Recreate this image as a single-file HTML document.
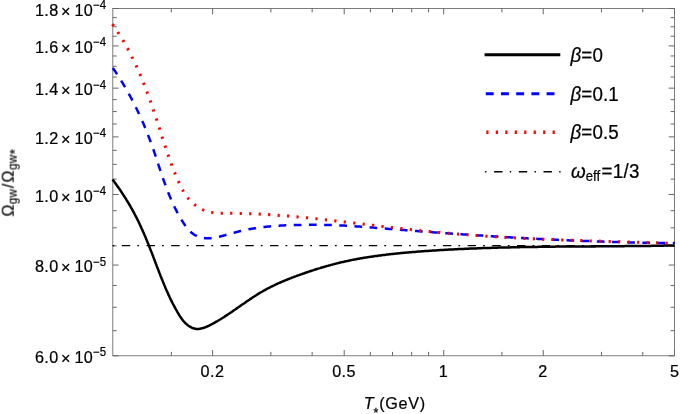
<!DOCTYPE html>
<html><head><meta charset="utf-8"><title>plot</title>
<style>
html,body{margin:0;padding:0;background:#fff;}
svg{display:block;}
text{font-family:"Liberation Sans",sans-serif;font-size:16.2px;fill:#000;letter-spacing:0.45px;}
.i{font-style:italic;}
.t{will-change:transform;}
.t text{stroke:#000;stroke-width:0.22px;}
.lg text{font-size:18.8px;letter-spacing:0.1px;}
</style></head><body>
<svg width="680" height="414" viewBox="0 0 680 414">
<rect x="0" y="0" width="680" height="414" fill="#fff"/>
<g fill="none">
<rect x="112.8" y="8.5" width="561.7" height="347.3" stroke="#666" stroke-width="0.85"/>
<path d="M212.62,355.8 v-5.8 M212.62,8.5 v5.8 M344.19,355.8 v-5.8 M344.19,8.5 v5.8 M443.71,355.8 v-5.8 M443.71,8.5 v5.8 M543.24,355.8 v-5.8 M543.24,8.5 v5.8 M674.50,355.8 v-5.8 M674.50,8.5 v5.8 M171.32,355.8 v-3.9 M171.32,8.5 v3.9 M270.84,355.8 v-3.9 M270.84,8.5 v3.9 M312.15,355.8 v-3.9 M312.15,8.5 v3.9 M370.37,355.8 v-3.9 M370.37,8.5 v3.9 M392.50,355.8 v-3.9 M392.50,8.5 v3.9 M411.67,355.8 v-3.9 M411.67,8.5 v3.9 M428.58,355.8 v-3.9 M428.58,8.5 v3.9 M501.93,355.8 v-3.9 M501.93,8.5 v3.9 M601.45,355.8 v-3.9 M601.45,8.5 v3.9 M642.76,355.8 v-3.9 M642.76,8.5 v3.9 M112.8,8.50 h5.8 M674.5,8.50 h-5.8 M112.8,45.93 h5.8 M674.5,45.93 h-5.8 M112.8,88.15 h5.8 M674.5,88.15 h-5.8 M112.8,136.88 h5.8 M674.5,136.88 h-5.8 M112.8,194.51 h5.8 M674.5,194.51 h-5.8 M112.8,265.06 h5.8 M674.5,265.06 h-5.8 M112.8,355.80 h5.8 M674.5,355.80 h-5.8 M112.8,17.61 h3.9 M674.5,17.61 h-3.9 M112.8,26.77 h3.9 M674.5,26.77 h-3.9 M112.8,36.21 h3.9 M674.5,36.21 h-3.9 M112.8,55.97 h3.9 M674.5,55.97 h-3.9 M112.8,66.34 h3.9 M674.5,66.34 h-3.9 M112.8,77.05 h3.9 M674.5,77.05 h-3.9 M112.8,99.64 h3.9 M674.5,99.64 h-3.9 M112.8,111.57 h3.9 M674.5,111.57 h-3.9 M112.8,123.97 h3.9 M674.5,123.97 h-3.9 M112.8,150.33 h3.9 M674.5,150.33 h-3.9 M112.8,164.38 h3.9 M674.5,164.38 h-3.9 M112.8,179.09 h3.9 M674.5,179.09 h-3.9 M112.8,210.73 h3.9 M674.5,210.73 h-3.9 M112.8,227.82 h3.9 M674.5,227.82 h-3.9 M112.8,245.89 h3.9 M674.5,245.89 h-3.9 M112.8,285.46 h3.9 M674.5,285.46 h-3.9 M112.8,307.27 h3.9 M674.5,307.27 h-3.9 M112.8,330.70 h3.9 M674.5,330.70 h-3.9" stroke="#666" stroke-width="1"/>
</g>
<g fill="none" stroke-linejoin="round">
<path d="M112.5,179.5 L113.1,180.3 L113.7,181.0 L114.3,181.8 L114.8,182.6 L115.4,183.4 L116.0,184.1 L116.5,184.9 L117.1,185.7 L117.6,186.5 L118.2,187.3 L118.7,188.0 L119.3,188.8 L119.8,189.6 L120.4,190.4 L120.9,191.2 L121.4,192.0 L122.0,192.8 L122.5,193.6 L123.0,194.4 L123.5,195.2 L124.1,196.0 L124.6,196.8 L125.1,197.6 L125.6,198.4 L126.1,199.2 L126.6,200.1 L127.1,200.9 L127.6,201.7 L128.1,202.5 L128.6,203.3 L129.1,204.2 L129.6,205.0 L130.1,205.8 L130.5,206.6 L131.0,207.5 L131.5,208.3 L132.0,209.1 L132.4,210.0 L132.9,210.8 L133.3,211.7 L133.8,212.5 L134.3,213.3 L134.7,214.2 L135.1,215.0 L135.6,215.9 L136.0,216.7 L136.5,217.6 L136.9,218.4 L137.3,219.3 L137.7,220.2 L138.2,221.0 L138.6,221.9 L139.0,222.7 L139.4,223.6 L139.8,224.5 L140.2,225.3 L140.6,226.2 L141.0,227.1 L141.4,228.0 L141.8,228.8 L142.2,229.7 L142.6,230.6 L143.0,231.5 L143.4,232.3 L143.8,233.2 L144.2,234.1 L144.5,235.0 L144.9,235.8 L145.3,236.7 L145.7,237.6 L146.0,238.5 L146.4,239.4 L146.8,240.3 L147.1,241.2 L147.5,242.0 L147.8,242.9 L148.2,243.8 L148.6,244.7 L148.9,245.6 L149.3,246.5 L149.6,247.4 L150.0,248.3 L150.3,249.2 L150.7,250.1 L151.0,250.9 L151.4,251.8 L151.7,252.7 L152.1,253.6 L152.4,254.5 L152.8,255.4 L153.1,256.3 L153.4,257.2 L153.8,258.1 L154.1,259.0 L154.5,259.9 L154.8,260.8 L155.1,261.7 L155.5,262.6 L155.8,263.5 L156.2,264.4 L156.5,265.3 L156.8,266.2 L157.2,267.0 L157.5,267.9 L157.9,268.8 L158.2,269.7 L158.6,270.6 L158.9,271.5 L159.2,272.4 L159.6,273.3 L159.9,274.2 L160.3,275.1 L160.6,276.0 L161.0,276.9 L161.3,277.8 L161.7,278.7 L162.1,279.5 L162.4,280.4 L162.8,281.3 L163.1,282.2 L163.5,283.1 L163.9,284.0 L164.2,284.9 L164.6,285.8 L165.0,286.6 L165.3,287.5 L165.7,288.4 L166.1,289.3 L166.5,290.2 L166.9,291.0 L167.3,291.9 L167.7,292.8 L168.1,293.7 L168.4,294.6 L168.8,295.4 L169.3,296.3 L169.7,297.2 L170.1,298.0 L170.5,298.9 L170.9,299.8 L171.3,300.6 L171.7,301.5 L172.2,302.3 L172.6,303.2 L173.0,304.0 L173.5,304.9 L173.9,305.7 L174.4,306.5 L174.8,307.4 L175.3,308.2 L175.7,309.0 L176.2,309.9 L176.7,310.7 L177.1,311.5 L177.6,312.4 L178.1,313.2 L178.6,314.0 L179.1,314.9 L179.6,315.7 L180.1,316.5 L180.7,317.3 L181.2,318.1 L181.8,318.9 L182.4,319.7 L183.0,320.4 L183.6,321.2 L184.2,321.9 L184.9,322.6 L185.5,323.3 L186.2,323.9 L186.9,324.5 L187.7,325.1 L188.4,325.7 L189.2,326.2 L190.0,326.7 L190.9,327.2 L191.7,327.6 L192.6,328.0 L193.5,328.3 L194.4,328.6 L195.4,328.8 L196.3,328.9 L197.3,328.9 L198.2,328.9 L199.2,328.9 L200.1,328.7 L201.0,328.6 L202.0,328.3 L202.9,328.1 L203.8,327.8 L204.7,327.5 L205.6,327.1 L206.5,326.8 L207.4,326.4 L208.3,326.0 L209.1,325.6 L210.0,325.1 L210.9,324.7 L211.7,324.2 L212.6,323.8 L213.4,323.3 L214.3,322.9 L215.1,322.4 L215.9,321.9 L216.8,321.4 L217.6,321.0 L218.4,320.5 L219.2,320.0 L220.1,319.5 L220.9,319.0 L221.7,318.5 L222.5,318.0 L223.3,317.5 L224.1,317.0 L224.9,316.4 L225.7,315.9 L226.5,315.4 L227.3,314.9 L228.1,314.3 L228.9,313.8 L229.7,313.3 L230.5,312.7 L231.3,312.2 L232.0,311.7 L232.8,311.1 L233.6,310.6 L234.4,310.0 L235.2,309.5 L236.0,308.9 L236.8,308.4 L237.6,307.8 L238.3,307.3 L239.1,306.7 L239.9,306.2 L240.7,305.6 L241.5,305.1 L242.3,304.5 L243.1,304.0 L243.9,303.5 L244.7,302.9 L245.4,302.4 L246.2,301.8 L247.0,301.3 L247.8,300.7 L248.6,300.2 L249.4,299.7 L250.2,299.1 L251.0,298.6 L251.8,298.1 L252.6,297.5 L253.4,297.0 L254.2,296.5 L255.0,296.0 L255.8,295.5 L256.6,294.9 L257.5,294.4 L258.3,293.9 L259.1,293.4 L259.9,292.9 L260.7,292.4 L261.5,292.0 L262.4,291.5 L263.2,291.0 L264.0,290.5 L264.9,290.1 L265.7,289.6 L266.6,289.1 L267.4,288.7 L268.2,288.2 L269.1,287.8 L269.9,287.4 L270.8,286.9 L271.6,286.5 L272.5,286.1 L273.4,285.7 L274.2,285.3 L275.1,284.8 L276.0,284.4 L276.8,284.0 L277.7,283.6 L278.6,283.2 L279.4,282.9 L280.3,282.5 L281.2,282.1 L282.1,281.7 L283.0,281.3 L283.8,281.0 L284.7,280.6 L285.6,280.2 L286.5,279.9 L287.4,279.5 L288.3,279.1 L289.2,278.8 L290.1,278.4 L291.0,278.1 L291.9,277.7 L292.7,277.4 L293.6,277.1 L294.5,276.7 L295.4,276.4 L296.3,276.1 L297.2,275.7 L298.1,275.4 L299.0,275.1 L300.0,274.8 L300.9,274.4 L301.8,274.1 L302.7,273.8 L303.6,273.5 L304.5,273.2 L305.4,272.8 L306.3,272.5 L307.2,272.2 L308.1,271.9 L309.0,271.6 L309.9,271.3 L310.8,271.0 L311.7,270.7 L312.7,270.4 L313.6,270.1 L314.5,269.8 L315.4,269.5 L316.3,269.2 L317.2,268.9 L318.1,268.6 L319.0,268.4 L320.0,268.1 L320.9,267.8 L321.8,267.5 L322.7,267.3 L323.6,267.0 L324.6,266.7 L325.5,266.4 L326.4,266.2 L327.3,265.9 L328.2,265.7 L329.2,265.4 L330.1,265.2 L331.0,264.9 L331.9,264.7 L332.9,264.4 L333.8,264.2 L334.7,263.9 L335.6,263.7 L336.6,263.4 L337.5,263.2 L338.4,263.0 L339.3,262.8 L340.3,262.5 L341.2,262.3 L342.1,262.1 L343.1,261.9 L344.0,261.7 L344.9,261.5 L345.9,261.3 L346.8,261.1 L347.8,260.9 L348.7,260.7 L349.6,260.5 L350.6,260.3 L351.5,260.1 L352.4,259.9 L353.4,259.7 L354.3,259.5 L355.3,259.4 L356.2,259.2 L357.1,259.0 L358.1,258.8 L359.0,258.7 L360.0,258.5 L360.9,258.3 L361.9,258.2 L362.8,258.0 L363.8,257.8 L364.7,257.7 L365.6,257.5 L366.6,257.4 L367.5,257.2 L368.5,257.1 L369.4,256.9 L370.4,256.8 L371.3,256.7 L372.3,256.5 L373.2,256.4 L374.2,256.2 L375.1,256.1 L376.1,256.0 L377.0,255.9 L378.0,255.7 L378.9,255.6 L379.9,255.5 L380.8,255.4 L381.8,255.2 L382.7,255.1 L383.7,255.0 L384.6,254.9 L385.6,254.8 L386.5,254.6 L387.5,254.5 L388.4,254.4 L389.4,254.3 L390.3,254.2 L391.3,254.1 L392.3,254.0 L393.2,253.9 L394.2,253.8 L395.1,253.7 L396.1,253.6 L397.0,253.5 L398.0,253.4 L398.9,253.3 L399.9,253.2 L400.8,253.1 L401.8,253.0 L402.7,252.9 L403.7,252.8 L404.6,252.8 L405.6,252.7 L406.6,252.6 L407.5,252.5 L408.5,252.4 L409.4,252.3 L410.4,252.3 L411.3,252.2 L412.3,252.1 L413.2,252.0 L414.2,251.9 L415.1,251.9 L416.1,251.8 L417.1,251.7 L418.0,251.6 L419.0,251.6 L419.9,251.5 L420.9,251.4 L421.8,251.3 L422.8,251.3 L423.7,251.2 L424.7,251.1 L425.7,251.1 L426.6,251.0 L427.6,250.9 L428.5,250.9 L429.5,250.8 L430.4,250.7 L431.4,250.7 L432.3,250.6 L433.3,250.5 L434.3,250.5 L435.2,250.4 L436.2,250.4 L437.1,250.3 L438.1,250.2 L439.0,250.2 L440.0,250.1 L441.0,250.1 L441.9,250.0 L442.9,250.0 L443.8,249.9 L444.8,249.8 L445.7,249.8 L446.7,249.7 L447.6,249.7 L448.6,249.6 L449.6,249.6 L450.5,249.5 L451.5,249.5 L452.4,249.4 L453.4,249.4 L454.3,249.3 L455.3,249.3 L456.3,249.2 L457.2,249.2 L458.2,249.1 L459.1,249.1 L460.1,249.0 L461.0,249.0 L462.0,249.0 L463.0,248.9 L463.9,248.9 L464.9,248.8 L465.8,248.8 L466.8,248.7 L467.7,248.7 L468.7,248.7 L469.7,248.6 L470.6,248.6 L471.6,248.5 L472.5,248.5 L473.5,248.5 L474.4,248.4 L475.4,248.4 L476.4,248.4 L477.3,248.3 L478.3,248.3 L479.2,248.2 L480.2,248.2 L481.2,248.2 L482.1,248.1 L483.1,248.1 L484.0,248.1 L485.0,248.0 L485.9,248.0 L486.9,248.0 L487.9,248.0 L488.8,247.9 L489.8,247.9 L490.7,247.9 L491.7,247.8 L492.6,247.8 L493.6,247.8 L494.6,247.7 L495.5,247.7 L496.5,247.7 L497.4,247.7 L498.4,247.6 L499.4,247.6 L500.3,247.6 L501.3,247.6 L502.2,247.5 L503.2,247.5 L504.1,247.5 L505.1,247.5 L506.1,247.4 L507.0,247.4 L508.0,247.4 L508.9,247.4 L509.9,247.4 L510.8,247.3 L511.8,247.3 L512.8,247.3 L513.7,247.3 L514.7,247.2 L515.6,247.2 L516.6,247.2 L517.6,247.2 L518.5,247.2 L519.5,247.2 L520.4,247.1 L521.4,247.1 L522.3,247.1 L523.3,247.1 L524.3,247.1 L525.2,247.1 L526.2,247.0 L527.1,247.0 L528.1,247.0 L529.0,247.0 L530.0,247.0 L531.0,247.0 L531.9,246.9 L532.9,246.9 L533.8,246.9 L534.8,246.9 L535.8,246.9 L536.7,246.9 L537.7,246.9 L538.6,246.8 L539.6,246.8 L540.5,246.8 L541.5,246.8 L542.5,246.8 L543.4,246.8 L544.4,246.8 L545.3,246.8 L546.3,246.8 L547.3,246.7 L548.2,246.7 L549.2,246.7 L550.1,246.7 L551.1,246.7 L552.0,246.7 L553.0,246.7 L554.0,246.7 L554.9,246.7 L555.9,246.6 L556.8,246.6 L557.8,246.6 L558.8,246.6 L559.7,246.6 L560.7,246.6 L561.6,246.6 L562.6,246.6 L563.5,246.6 L564.5,246.6 L565.5,246.6 L566.4,246.6 L567.4,246.5 L568.3,246.5 L569.3,246.5 L570.2,246.5 L571.2,246.5 L572.2,246.5 L573.1,246.5 L574.1,246.5 L575.0,246.5 L576.0,246.5 L577.0,246.5 L577.9,246.5 L578.9,246.5 L579.8,246.5 L580.8,246.4 L581.7,246.4 L582.7,246.4 L583.7,246.4 L584.6,246.4 L585.6,246.4 L586.5,246.4 L587.5,246.4 L588.5,246.4 L589.4,246.4 L590.4,246.4 L591.3,246.4 L592.3,246.4 L593.2,246.4 L594.2,246.4 L595.2,246.4 L596.1,246.3 L597.1,246.3 L598.0,246.3 L599.0,246.3 L600.0,246.3 L600.9,246.3 L601.9,246.3 L602.8,246.3 L603.8,246.3 L604.7,246.3 L605.7,246.3 L606.7,246.3 L607.6,246.3 L608.6,246.3 L609.5,246.3 L610.5,246.3 L611.4,246.2 L612.4,246.2 L613.4,246.2 L614.3,246.2 L615.3,246.2 L616.2,246.2 L617.2,246.2 L618.2,246.2 L619.1,246.2 L620.1,246.2 L621.0,246.2 L622.0,246.2 L622.9,246.2 L623.9,246.2 L624.9,246.1 L625.8,246.1 L626.8,246.1 L627.7,246.1 L628.7,246.1 L629.7,246.1 L630.6,246.1 L631.6,246.1 L632.5,246.1 L633.5,246.1 L634.4,246.1 L635.4,246.0 L636.4,246.0 L637.3,246.0 L638.3,246.0 L639.2,246.0 L640.2,246.0 L641.2,246.0 L642.1,246.0 L643.1,246.0 L644.0,245.9 L645.0,245.9 L645.9,245.9 L646.9,245.9 L647.9,245.9 L648.8,245.9 L649.8,245.9 L650.7,245.9 L651.7,245.8 L652.7,245.8 L653.6,245.8 L654.6,245.8 L655.5,245.8 L656.5,245.8 L657.4,245.8 L658.4,245.7 L659.4,245.7 L660.3,245.7 L661.3,245.7 L662.2,245.7 L663.2,245.7 L664.1,245.6 L665.1,245.6 L666.1,245.6 L667.0,245.6 L668.0,245.6 L668.9,245.6 L669.9,245.5 L670.9,245.5 L671.8,245.5 L672.8,245.5 L673.7,245.5 L674.7,245.4" stroke="#000" stroke-width="2.5"/>
<path d="M112.8,67.9 L113.4,68.7 L113.9,69.5 L114.4,70.3 L115.0,71.0 L115.5,71.8 L116.0,72.6 L116.6,73.5 L117.1,74.3 L117.6,75.1 L118.1,75.9 L118.7,76.7 L119.2,77.5 L119.7,78.3 L120.2,79.1 L120.7,79.9 L121.2,80.7 L121.7,81.6 L122.2,82.4 L122.7,83.2 L123.2,84.0 L123.7,84.8 L124.2,85.7 L124.7,86.5 L125.2,87.3 L125.6,88.2 L126.1,89.0 L126.6,89.8 L127.1,90.6 L127.5,91.5 L128.0,92.3 L128.5,93.2 L128.9,94.0 L129.4,94.8 L129.9,95.7 L130.3,96.5 L130.8,97.4 L131.2,98.2 L131.7,99.1 L132.1,99.9 L132.6,100.7 L133.0,101.6 L133.4,102.5 L133.9,103.3 L134.3,104.2 L134.7,105.0 L135.2,105.9 L135.6,106.7 L136.0,107.6 L136.4,108.4 L136.9,109.3 L137.3,110.2 L137.7,111.0 L138.1,111.9 L138.5,112.8 L138.9,113.6 L139.3,114.5 L139.7,115.4 L140.1,116.2 L140.5,117.1 L140.9,118.0 L141.3,118.9 L141.7,119.7 L142.1,120.6 L142.5,121.5 L142.9,122.4 L143.2,123.2 L143.6,124.1 L144.0,125.0 L144.4,125.9 L144.7,126.8 L145.1,127.7 L145.5,128.5 L145.8,129.4 L146.2,130.3 L146.6,131.2 L146.9,132.1 L147.3,133.0 L147.6,133.9 L148.0,134.8 L148.3,135.7 L148.7,136.6 L149.0,137.5 L149.3,138.4 L149.7,139.3 L150.0,140.2 L150.3,141.1 L150.7,142.0 L151.0,142.9 L151.3,143.8 L151.7,144.7 L152.0,145.6 L152.3,146.5 L152.6,147.4 L152.9,148.3 L153.2,149.2 L153.6,150.1 L153.9,151.0 L154.2,151.9 L154.5,152.8 L154.8,153.7 L155.1,154.6 L155.4,155.5 L155.7,156.5 L156.0,157.4 L156.3,158.3 L156.6,159.2 L156.9,160.1 L157.2,161.0 L157.5,161.9 L157.8,162.8 L158.1,163.7 L158.4,164.7 L158.7,165.6 L159.0,166.5 L159.3,167.4 L159.6,168.3 L159.9,169.2 L160.2,170.1 L160.5,171.0 L160.8,171.9 L161.1,172.8 L161.4,173.8 L161.8,174.7 L162.1,175.6 L162.4,176.5 L162.7,177.4 L163.0,178.3 L163.3,179.2 L163.6,180.1 L163.9,181.0 L164.3,181.9 L164.6,182.8 L164.9,183.7 L165.2,184.6 L165.6,185.5 L165.9,186.4 L166.2,187.3 L166.6,188.2 L166.9,189.1 L167.2,190.0 L167.6,190.9 L167.9,191.8 L168.3,192.7 L168.6,193.6 L169.0,194.4 L169.4,195.3 L169.7,196.2 L170.1,197.1 L170.5,198.0 L170.8,198.9 L171.2,199.7 L171.6,200.6 L172.0,201.5 L172.4,202.4 L172.8,203.2 L173.2,204.1 L173.6,205.0 L174.0,205.8 L174.4,206.7 L174.8,207.6 L175.2,208.4 L175.7,209.3 L176.1,210.1 L176.5,211.0 L177.0,211.8 L177.4,212.7 L177.9,213.5 L178.3,214.4 L178.8,215.2 L179.3,216.1 L179.8,216.9 L180.3,217.7 L180.7,218.6 L181.2,219.4 L181.7,220.2 L182.3,221.1 L182.8,221.9 L183.3,222.7 L183.8,223.5 L184.4,224.3 L184.9,225.1 L185.5,225.9 L186.1,226.7 L186.6,227.5 L187.2,228.2 L187.8,228.9 L188.5,229.6 L189.1,230.3 L189.8,231.0 L190.5,231.7 L191.1,232.3 L191.9,232.9 L192.6,233.5 L193.3,234.0 L194.1,234.6 L194.9,235.1 L195.7,235.5 L196.6,235.9 L197.4,236.3 L198.3,236.7 L199.2,237.0 L200.1,237.3 L201.1,237.6 L202.0,237.8 L203.0,238.0 L203.9,238.1 L204.9,238.2 L205.8,238.3 L206.8,238.3 L207.8,238.3 L208.7,238.3 L209.7,238.3 L210.7,238.2 L211.6,238.1 L212.6,237.9 L213.5,237.8 L214.5,237.6 L215.4,237.5 L216.4,237.3 L217.3,237.1 L218.3,236.9 L219.2,236.7 L220.1,236.5 L221.1,236.2 L222.0,236.0 L222.9,235.8 L223.8,235.5 L224.8,235.3 L225.7,235.0 L226.6,234.8 L227.5,234.5 L228.5,234.3 L229.4,234.0 L230.3,233.7 L231.2,233.5 L232.1,233.2 L233.1,233.0 L234.0,232.7 L234.9,232.5 L235.8,232.2 L236.8,232.0 L237.7,231.8 L238.6,231.5 L239.5,231.3 L240.5,231.1 L241.4,230.9 L242.4,230.7 L243.3,230.4 L244.2,230.2 L245.2,230.0 L246.1,229.9 L247.0,229.7 L248.0,229.5 L248.9,229.3 L249.9,229.1 L250.8,229.0 L251.8,228.8 L252.7,228.6 L253.7,228.5 L254.6,228.3 L255.6,228.2 L256.5,228.0 L257.5,227.9 L258.4,227.8 L259.4,227.6 L260.3,227.5 L261.3,227.4 L262.2,227.3 L263.2,227.1 L264.1,227.0 L265.1,226.9 L266.0,226.8 L267.0,226.7 L267.9,226.6 L268.9,226.5 L269.8,226.4 L270.8,226.3 L271.7,226.2 L272.7,226.2 L273.7,226.1 L274.6,226.0 L275.6,225.9 L276.5,225.9 L277.5,225.8 L278.4,225.7 L279.4,225.7 L280.3,225.6 L281.3,225.6 L282.3,225.5 L283.2,225.4 L284.2,225.4 L285.1,225.3 L286.1,225.3 L287.0,225.3 L288.0,225.2 L289.0,225.2 L289.9,225.1 L290.9,225.1 L291.8,225.1 L292.8,225.0 L293.7,225.0 L294.7,225.0 L295.7,225.0 L296.6,224.9 L297.6,224.9 L298.5,224.9 L299.5,224.9 L300.5,224.9 L301.4,224.9 L302.4,224.8 L303.3,224.8 L304.3,224.8 L305.2,224.8 L306.2,224.8 L307.2,224.8 L308.1,224.8 L309.1,224.8 L310.0,224.8 L311.0,224.8 L312.0,224.8 L312.9,224.8 L313.9,224.8 L314.8,224.8 L315.8,224.8 L316.8,224.8 L317.7,224.8 L318.7,224.8 L319.6,224.8 L320.6,224.8 L321.5,224.8 L322.5,224.9 L323.5,224.9 L324.4,224.9 L325.4,224.9 L326.3,224.9 L327.3,225.0 L328.3,225.0 L329.2,225.0 L330.2,225.0 L331.1,225.1 L332.1,225.1 L333.0,225.1 L334.0,225.2 L335.0,225.2 L335.9,225.2 L336.9,225.3 L337.8,225.3 L338.8,225.4 L339.8,225.4 L340.7,225.5 L341.7,225.5 L342.6,225.5 L343.6,225.6 L344.5,225.6 L345.5,225.7 L346.5,225.8 L347.4,225.8 L348.4,225.9 L349.3,225.9 L350.3,226.0 L351.2,226.0 L352.2,226.1 L353.2,226.2 L354.1,226.2 L355.1,226.3 L356.0,226.4 L357.0,226.4 L357.9,226.5 L358.9,226.6 L359.8,226.6 L360.8,226.7 L361.8,226.8 L362.7,226.8 L363.7,226.9 L364.6,227.0 L365.6,227.1 L366.5,227.1 L367.5,227.2 L368.5,227.3 L369.4,227.3 L370.4,227.4 L371.3,227.5 L372.3,227.6 L373.2,227.6 L374.2,227.7 L375.1,227.8 L376.1,227.9 L377.1,228.0 L378.0,228.0 L379.0,228.1 L379.9,228.2 L380.9,228.3 L381.8,228.3 L382.8,228.4 L383.7,228.5 L384.7,228.6 L385.7,228.6 L386.6,228.7 L387.6,228.8 L388.5,228.9 L389.5,229.0 L390.4,229.0 L391.4,229.1 L392.3,229.2 L393.3,229.3 L394.3,229.3 L395.2,229.4 L396.2,229.5 L397.1,229.6 L398.1,229.6 L399.0,229.7 L400.0,229.8 L400.9,229.8 L401.9,229.9 L402.9,230.0 L403.8,230.1 L404.8,230.1 L405.7,230.2 L406.7,230.3 L407.6,230.4 L408.6,230.4 L409.5,230.5 L410.5,230.6 L411.5,230.7 L412.4,230.7 L413.4,230.8 L414.3,230.9 L415.3,230.9 L416.2,231.0 L417.2,231.1 L418.2,231.2 L419.1,231.2 L420.1,231.3 L421.0,231.4 L422.0,231.4 L422.9,231.5 L423.9,231.6 L424.8,231.7 L425.8,231.7 L426.8,231.8 L427.7,231.9 L428.7,231.9 L429.6,232.0 L430.6,232.1 L431.5,232.1 L432.5,232.2 L433.5,232.3 L434.4,232.4 L435.4,232.4 L436.3,232.5 L437.3,232.6 L438.2,232.6 L439.2,232.7 L440.1,232.8 L441.1,232.8 L442.1,232.9 L443.0,233.0 L444.0,233.0 L444.9,233.1 L445.9,233.2 L446.8,233.2 L447.8,233.3 L448.8,233.4 L449.7,233.4 L450.7,233.5 L451.6,233.6 L452.6,233.7 L453.5,233.7 L454.5,233.8 L455.4,233.8 L456.4,233.9 L457.4,234.0 L458.3,234.0 L459.3,234.1 L460.2,234.2 L461.2,234.2 L462.1,234.3 L463.1,234.4 L464.1,234.4 L465.0,234.5 L466.0,234.6 L466.9,234.6 L467.9,234.7 L468.8,234.8 L469.8,234.8 L470.7,234.9 L471.7,235.0 L472.7,235.0 L473.6,235.1 L474.6,235.1 L475.5,235.2 L476.5,235.3 L477.4,235.3 L478.4,235.4 L479.4,235.5 L480.3,235.5 L481.3,235.6 L482.2,235.6 L483.2,235.7 L484.1,235.8 L485.1,235.8 L486.1,235.9 L487.0,235.9 L488.0,236.0 L488.9,236.1 L489.9,236.1 L490.8,236.2 L491.8,236.2 L492.8,236.3 L493.7,236.4 L494.7,236.4 L495.6,236.5 L496.6,236.5 L497.5,236.6 L498.5,236.7 L499.5,236.7 L500.4,236.8 L501.4,236.8 L502.3,236.9 L503.3,236.9 L504.2,237.0 L505.2,237.1 L506.2,237.1 L507.1,237.2 L508.1,237.2 L509.0,237.3 L510.0,237.3 L510.9,237.4 L511.9,237.5 L512.9,237.5 L513.8,237.6 L514.8,237.6 L515.7,237.7 L516.7,237.7 L517.6,237.8 L518.6,237.8 L519.6,237.9 L520.5,237.9 L521.5,238.0 L522.4,238.0 L523.4,238.1 L524.3,238.2 L525.3,238.2 L526.3,238.3 L527.2,238.3 L528.2,238.4 L529.1,238.4 L530.1,238.5 L531.0,238.5 L532.0,238.6 L533.0,238.6 L533.9,238.7 L534.9,238.7 L535.8,238.8 L536.8,238.8 L537.7,238.9 L538.7,238.9 L539.7,239.0 L540.6,239.0 L541.6,239.1 L542.5,239.1 L543.5,239.2 L544.4,239.2 L545.4,239.3 L546.4,239.3 L547.3,239.3 L548.3,239.4 L549.2,239.4 L550.2,239.5 L551.1,239.5 L552.1,239.6 L553.1,239.6 L554.0,239.7 L555.0,239.7 L555.9,239.8 L556.9,239.8 L557.8,239.8 L558.8,239.9 L559.8,239.9 L560.7,240.0 L561.7,240.0 L562.6,240.1 L563.6,240.1 L564.6,240.1 L565.5,240.2 L566.5,240.2 L567.4,240.3 L568.4,240.3 L569.3,240.4 L570.3,240.4 L571.3,240.4 L572.2,240.5 L573.2,240.5 L574.1,240.6 L575.1,240.6 L576.0,240.6 L577.0,240.7 L578.0,240.7 L578.9,240.8 L579.9,240.8 L580.8,240.8 L581.8,240.9 L582.8,240.9 L583.7,240.9 L584.7,241.0 L585.6,241.0 L586.6,241.1 L587.5,241.1 L588.5,241.1 L589.5,241.2 L590.4,241.2 L591.4,241.2 L592.3,241.3 L593.3,241.3 L594.3,241.3 L595.2,241.4 L596.2,241.4 L597.1,241.4 L598.1,241.5 L599.0,241.5 L600.0,241.5 L601.0,241.6 L601.9,241.6 L602.9,241.6 L603.8,241.7 L604.8,241.7 L605.7,241.7 L606.7,241.8 L607.7,241.8 L608.6,241.8 L609.6,241.8 L610.5,241.9 L611.5,241.9 L612.5,241.9 L613.4,242.0 L614.4,242.0 L615.3,242.0 L616.3,242.0 L617.2,242.1 L618.2,242.1 L619.2,242.1 L620.1,242.1 L621.1,242.2 L622.0,242.2 L623.0,242.2 L624.0,242.2 L624.9,242.3 L625.9,242.3 L626.8,242.3 L627.8,242.3 L628.7,242.4 L629.7,242.4 L630.7,242.4 L631.6,242.4 L632.6,242.5 L633.5,242.5 L634.5,242.5 L635.5,242.5 L636.4,242.5 L637.4,242.6 L638.3,242.6 L639.3,242.6 L640.2,242.6 L641.2,242.6 L642.2,242.7 L643.1,242.7 L644.1,242.7 L645.0,242.7 L646.0,242.7 L647.0,242.7 L647.9,242.8 L648.9,242.8 L649.8,242.8 L650.8,242.8 L651.8,242.8 L652.7,242.8 L653.7,242.9 L654.6,242.9 L655.6,242.9 L656.5,242.9 L657.5,242.9 L658.5,242.9 L659.4,242.9 L660.4,242.9 L661.3,243.0 L662.3,243.0 L663.3,243.0 L664.2,243.0 L665.2,243.0 L666.1,243.0 L667.1,243.0 L668.0,243.0 L669.0,243.0 L670.0,243.0 L670.9,243.1 L671.9,243.1 L672.8,243.1 L673.8,243.1 L674.8,243.1" stroke="#0000ff" stroke-width="2.5" stroke-dasharray="7.7 7.5"/>
<path d="M112.4,24.2 L113.0,25.0 L113.6,25.8 L114.1,26.6 L114.7,27.4 L115.2,28.2 L115.8,29.0 L116.3,29.8 L116.9,30.6 L117.4,31.5 L117.9,32.3 L118.5,33.1 L119.0,33.9 L119.5,34.8 L120.0,35.6 L120.6,36.4 L121.1,37.3 L121.6,38.1 L122.1,38.9 L122.6,39.8 L123.1,40.6 L123.6,41.4 L124.1,42.3 L124.6,43.1 L125.1,44.0 L125.5,44.8 L126.0,45.7 L126.5,46.5 L127.0,47.4 L127.4,48.2 L127.9,49.1 L128.4,50.0 L128.8,50.8 L129.3,51.7 L129.7,52.6 L130.2,53.4 L130.6,54.3 L131.1,55.2 L131.5,56.0 L131.9,56.9 L132.4,57.8 L132.8,58.6 L133.2,59.5 L133.7,60.4 L134.1,61.3 L134.5,62.2 L134.9,63.0 L135.4,63.9 L135.8,64.8 L136.2,65.7 L136.6,66.6 L137.0,67.5 L137.4,68.4 L137.8,69.3 L138.2,70.2 L138.6,71.0 L139.0,71.9 L139.4,72.8 L139.7,73.7 L140.1,74.6 L140.5,75.5 L140.9,76.4 L141.3,77.3 L141.6,78.2 L142.0,79.1 L142.4,80.0 L142.8,80.9 L143.1,81.9 L143.5,82.8 L143.8,83.7 L144.2,84.6 L144.6,85.5 L144.9,86.4 L145.3,87.3 L145.6,88.2 L146.0,89.1 L146.3,90.1 L146.7,91.0 L147.0,91.9 L147.3,92.8 L147.7,93.7 L148.0,94.6 L148.4,95.6 L148.7,96.5 L149.0,97.4 L149.4,98.3 L149.7,99.2 L150.0,100.2 L150.3,101.1 L150.7,102.0 L151.0,102.9 L151.3,103.9 L151.6,104.8 L151.9,105.7 L152.3,106.6 L152.6,107.6 L152.9,108.5 L153.2,109.4 L153.5,110.3 L153.8,111.3 L154.1,112.2 L154.4,113.1 L154.7,114.0 L155.0,115.0 L155.4,115.9 L155.7,116.8 L156.0,117.8 L156.3,118.7 L156.6,119.6 L156.9,120.5 L157.2,121.5 L157.5,122.4 L157.8,123.3 L158.1,124.3 L158.4,125.2 L158.7,126.1 L159.0,127.1 L159.3,128.0 L159.6,128.9 L159.9,129.8 L160.2,130.8 L160.5,131.7 L160.7,132.6 L161.0,133.6 L161.3,134.5 L161.6,135.4 L161.9,136.4 L162.2,137.3 L162.5,138.2 L162.8,139.1 L163.1,140.1 L163.4,141.0 L163.7,141.9 L164.0,142.9 L164.3,143.8 L164.6,144.7 L164.9,145.6 L165.3,146.6 L165.6,147.5 L165.9,148.4 L166.2,149.4 L166.5,150.3 L166.8,151.2 L167.1,152.1 L167.4,153.1 L167.7,154.0 L168.1,154.9 L168.4,155.8 L168.7,156.7 L169.0,157.7 L169.3,158.6 L169.7,159.5 L170.0,160.4 L170.3,161.3 L170.7,162.3 L171.0,163.2 L171.3,164.1 L171.7,165.0 L172.0,165.9 L172.4,166.8 L172.7,167.8 L173.1,168.7 L173.4,169.6 L173.8,170.5 L174.1,171.4 L174.5,172.3 L174.9,173.2 L175.2,174.1 L175.6,175.0 L176.0,175.9 L176.4,176.8 L176.8,177.7 L177.2,178.6 L177.5,179.5 L177.9,180.4 L178.3,181.3 L178.8,182.2 L179.2,183.1 L179.6,184.0 L180.0,184.9 L180.4,185.8 L180.9,186.6 L181.3,187.5 L181.8,188.4 L182.2,189.3 L182.7,190.1 L183.2,191.0 L183.7,191.8 L184.2,192.6 L184.7,193.5 L185.2,194.3 L185.8,195.1 L186.3,195.9 L186.9,196.7 L187.5,197.5 L188.1,198.2 L188.7,199.0 L189.3,199.7 L190.0,200.4 L190.7,201.1 L191.4,201.8 L192.1,202.5 L192.8,203.2 L193.5,203.8 L194.3,204.4 L195.0,205.1 L195.8,205.6 L196.6,206.2 L197.4,206.8 L198.2,207.3 L199.1,207.8 L199.9,208.3 L200.8,208.8 L201.6,209.2 L202.5,209.6 L203.4,210.0 L204.3,210.4 L205.2,210.7 L206.1,211.1 L207.0,211.3 L208.0,211.6 L208.9,211.8 L209.8,212.1 L210.8,212.3 L211.7,212.4 L212.7,212.6 L213.7,212.7 L214.6,212.8 L215.6,212.9 L216.6,213.0 L217.5,213.1 L218.5,213.1 L219.5,213.2 L220.5,213.2 L221.5,213.2 L222.5,213.3 L223.4,213.3 L224.4,213.3 L225.4,213.3 L226.4,213.3 L227.4,213.3 L228.4,213.3 L229.4,213.3 L230.4,213.3 L231.3,213.3 L232.3,213.3 L233.3,213.3 L234.3,213.3 L235.3,213.4 L236.3,213.4 L237.2,213.4 L238.2,213.4 L239.2,213.4 L240.2,213.4 L241.1,213.5 L242.1,213.5 L243.1,213.5 L244.1,213.5 L245.0,213.6 L246.0,213.6 L247.0,213.6 L248.0,213.7 L248.9,213.7 L249.9,213.7 L250.9,213.8 L251.9,213.8 L252.8,213.8 L253.8,213.9 L254.8,213.9 L255.8,214.0 L256.7,214.0 L257.7,214.0 L258.7,214.1 L259.7,214.1 L260.6,214.2 L261.6,214.2 L262.6,214.3 L263.6,214.3 L264.5,214.4 L265.5,214.5 L266.5,214.5 L267.5,214.6 L268.4,214.6 L269.4,214.7 L270.4,214.8 L271.3,214.8 L272.3,214.9 L273.3,214.9 L274.3,215.0 L275.2,215.1 L276.2,215.1 L277.2,215.2 L278.2,215.3 L279.1,215.4 L280.1,215.4 L281.1,215.5 L282.1,215.6 L283.0,215.7 L284.0,215.7 L285.0,215.8 L286.0,215.9 L286.9,216.0 L287.9,216.0 L288.9,216.1 L289.9,216.2 L290.8,216.3 L291.8,216.4 L292.8,216.5 L293.7,216.5 L294.7,216.6 L295.7,216.7 L296.7,216.8 L297.6,216.9 L298.6,217.0 L299.6,217.1 L300.6,217.2 L301.5,217.3 L302.5,217.4 L303.5,217.5 L304.5,217.5 L305.4,217.6 L306.4,217.7 L307.4,217.8 L308.3,217.9 L309.3,218.0 L310.3,218.1 L311.3,218.2 L312.2,218.3 L313.2,218.4 L314.2,218.5 L315.2,218.6 L316.1,218.7 L317.1,218.8 L318.1,218.9 L319.0,219.0 L320.0,219.1 L321.0,219.3 L322.0,219.4 L322.9,219.5 L323.9,219.6 L324.9,219.7 L325.8,219.8 L326.8,219.9 L327.8,220.0 L328.8,220.1 L329.7,220.2 L330.7,220.3 L331.7,220.4 L332.6,220.5 L333.6,220.7 L334.6,220.8 L335.6,220.9 L336.5,221.0 L337.5,221.1 L338.5,221.2 L339.4,221.3 L340.4,221.4 L341.4,221.5 L342.4,221.7 L343.3,221.8 L344.3,221.9 L345.3,222.0 L346.2,222.1 L347.2,222.2 L348.2,222.3 L349.2,222.5 L350.1,222.6 L351.1,222.7 L352.1,222.8 L353.0,222.9 L354.0,223.0 L355.0,223.1 L356.0,223.3 L356.9,223.4 L357.9,223.5 L358.9,223.6 L359.8,223.7 L360.8,223.8 L361.8,224.0 L362.7,224.1 L363.7,224.2 L364.7,224.3 L365.7,224.4 L366.6,224.5 L367.6,224.6 L368.6,224.8 L369.5,224.9 L370.5,225.0 L371.5,225.1 L372.4,225.2 L373.4,225.3 L374.4,225.5 L375.4,225.6 L376.3,225.7 L377.3,225.8 L378.3,225.9 L379.2,226.0 L380.2,226.1 L381.2,226.3 L382.1,226.4 L383.1,226.5 L384.1,226.6 L385.1,226.7 L386.0,226.8 L387.0,226.9 L388.0,227.1 L388.9,227.2 L389.9,227.3 L390.9,227.4 L391.9,227.5 L392.8,227.6 L393.8,227.7 L394.8,227.8 L395.7,227.9 L396.7,228.1 L397.7,228.2 L398.6,228.3 L399.6,228.4 L400.6,228.5 L401.6,228.6 L402.5,228.7 L403.5,228.8 L404.5,228.9 L405.4,229.0 L406.4,229.1 L407.4,229.3 L408.4,229.4 L409.3,229.5 L410.3,229.6 L411.3,229.7 L412.2,229.8 L413.2,229.9 L414.2,230.0 L415.2,230.1 L416.1,230.2 L417.1,230.3 L418.1,230.4 L419.0,230.5 L420.0,230.6 L421.0,230.7 L422.0,230.8 L422.9,230.9 L423.9,231.0 L424.9,231.1 L425.8,231.2 L426.8,231.3 L427.8,231.4 L428.8,231.5 L429.7,231.6 L430.7,231.7 L431.7,231.8 L432.7,231.8 L433.6,231.9 L434.6,232.0 L435.6,232.1 L436.5,232.2 L437.5,232.3 L438.5,232.4 L439.5,232.5 L440.4,232.6 L441.4,232.7 L442.4,232.7 L443.4,232.8 L444.3,232.9 L445.3,233.0 L446.3,233.1 L447.3,233.2 L448.2,233.3 L449.2,233.3 L450.2,233.4 L451.1,233.5 L452.1,233.6 L453.1,233.7 L454.1,233.8 L455.0,233.8 L456.0,233.9 L457.0,234.0 L458.0,234.1 L458.9,234.2 L459.9,234.2 L460.9,234.3 L461.9,234.4 L462.8,234.5 L463.8,234.5 L464.8,234.6 L465.8,234.7 L466.7,234.8 L467.7,234.8 L468.7,234.9 L469.7,235.0 L470.6,235.1 L471.6,235.1 L472.6,235.2 L473.6,235.3 L474.5,235.4 L475.5,235.4 L476.5,235.5 L477.5,235.6 L478.4,235.6 L479.4,235.7 L480.4,235.8 L481.4,235.8 L482.3,235.9 L483.3,236.0 L484.3,236.0 L485.3,236.1 L486.2,236.2 L487.2,236.2 L488.2,236.3 L489.2,236.4 L490.1,236.4 L491.1,236.5 L492.1,236.5 L493.1,236.6 L494.0,236.7 L495.0,236.7 L496.0,236.8 L497.0,236.8 L497.9,236.9 L498.9,237.0 L499.9,237.0 L500.9,237.1 L501.8,237.1 L502.8,237.2 L503.8,237.2 L504.8,237.3 L505.7,237.4 L506.7,237.4 L507.7,237.5 L508.7,237.5 L509.6,237.6 L510.6,237.6 L511.6,237.7 L512.6,237.7 L513.6,237.8 L514.5,237.8 L515.5,237.9 L516.5,237.9 L517.5,238.0 L518.4,238.0 L519.4,238.1 L520.4,238.1 L521.4,238.2 L522.3,238.2 L523.3,238.3 L524.3,238.3 L525.3,238.4 L526.2,238.4 L527.2,238.5 L528.2,238.5 L529.2,238.6 L530.1,238.6 L531.1,238.7 L532.1,238.7 L533.1,238.7 L534.0,238.8 L535.0,238.8 L536.0,238.9 L537.0,238.9 L538.0,239.0 L538.9,239.0 L539.9,239.0 L540.9,239.1 L541.9,239.1 L542.8,239.2 L543.8,239.2 L544.8,239.3 L545.8,239.3 L546.7,239.3 L547.7,239.4 L548.7,239.4 L549.7,239.4 L550.6,239.5 L551.6,239.5 L552.6,239.6 L553.6,239.6 L554.5,239.6 L555.5,239.7 L556.5,239.7 L557.5,239.7 L558.5,239.8 L559.4,239.8 L560.4,239.9 L561.4,239.9 L562.4,239.9 L563.3,240.0 L564.3,240.0 L565.3,240.0 L566.3,240.1 L567.2,240.1 L568.2,240.1 L569.2,240.2 L570.2,240.2 L571.2,240.2 L572.1,240.3 L573.1,240.3 L574.1,240.3 L575.1,240.4 L576.0,240.4 L577.0,240.4 L578.0,240.5 L579.0,240.5 L579.9,240.5 L580.9,240.6 L581.9,240.6 L582.9,240.6 L583.8,240.7 L584.8,240.7 L585.8,240.7 L586.8,240.8 L587.8,240.8 L588.7,240.8 L589.7,240.8 L590.7,240.9 L591.7,240.9 L592.6,240.9 L593.6,241.0 L594.6,241.0 L595.6,241.0 L596.5,241.1 L597.5,241.1 L598.5,241.1 L599.5,241.1 L600.5,241.2 L601.4,241.2 L602.4,241.2 L603.4,241.3 L604.4,241.3 L605.3,241.3 L606.3,241.3 L607.3,241.4 L608.3,241.4 L609.2,241.4 L610.2,241.5 L611.2,241.5 L612.2,241.5 L613.1,241.5 L614.1,241.6 L615.1,241.6 L616.1,241.6 L617.1,241.7 L618.0,241.7 L619.0,241.7 L620.0,241.7 L621.0,241.8 L621.9,241.8 L622.9,241.8 L623.9,241.9 L624.9,241.9 L625.8,241.9 L626.8,241.9 L627.8,242.0 L628.8,242.0 L629.8,242.0 L630.7,242.1 L631.7,242.1 L632.7,242.1 L633.7,242.1 L634.6,242.2 L635.6,242.2 L636.6,242.2 L637.6,242.3 L638.5,242.3 L639.5,242.3 L640.5,242.3 L641.5,242.4 L642.5,242.4 L643.4,242.4 L644.4,242.5 L645.4,242.5 L646.4,242.5 L647.3,242.5 L648.3,242.6 L649.3,242.6 L650.3,242.6 L651.2,242.7 L652.2,242.7 L653.2,242.7 L654.2,242.8 L655.2,242.8 L656.1,242.8 L657.1,242.8 L658.1,242.9 L659.1,242.9 L660.0,242.9 L661.0,243.0 L662.0,243.0 L663.0,243.0 L663.9,243.1 L664.9,243.1 L665.9,243.1 L666.9,243.2 L667.9,243.2 L668.8,243.2 L669.8,243.3 L670.8,243.3 L671.8,243.3 L672.7,243.4 L673.7,243.4 L674.7,243.4" stroke="#ff0000" stroke-width="3.0" stroke-dasharray="2.2 7.3"/>
<path d="M112.6,245.7 H674.5" stroke="#000" stroke-width="1.2" stroke-dasharray="1.8 7.4 8.4 7.1"/>
</g>
<g class="t">
<text x="34.9" y="0" text-anchor="start" transform="translate(0 15.9) scale(1 1.04)">1.8<tspan x="61.0" dy="1">×</tspan><tspan x="74.4" dy="-1">10</tspan><tspan dy="-6.5" font-size="11.4" x="93.3" letter-spacing="-0.2">−4</tspan></text>
<text x="34.9" y="0" text-anchor="start" transform="translate(0 53.1) scale(1 1.04)">1.6<tspan x="61.0" dy="1">×</tspan><tspan x="74.4" dy="-1">10</tspan><tspan dy="-6.5" font-size="11.4" x="93.3" letter-spacing="-0.2">−4</tspan></text>
<text x="34.9" y="0" text-anchor="start" transform="translate(0 95.3) scale(1 1.04)">1.4<tspan x="61.0" dy="1">×</tspan><tspan x="74.4" dy="-1">10</tspan><tspan dy="-6.5" font-size="11.4" x="93.3" letter-spacing="-0.2">−4</tspan></text>
<text x="34.9" y="0" text-anchor="start" transform="translate(0 144.1) scale(1 1.04)">1.2<tspan x="61.0" dy="1">×</tspan><tspan x="74.4" dy="-1">10</tspan><tspan dy="-6.5" font-size="11.4" x="93.3" letter-spacing="-0.2">−4</tspan></text>
<text x="34.9" y="0" text-anchor="start" transform="translate(0 201.7) scale(1 1.04)">1.0<tspan x="61.0" dy="1">×</tspan><tspan x="74.4" dy="-1">10</tspan><tspan dy="-6.5" font-size="11.4" x="93.3" letter-spacing="-0.2">−4</tspan></text>
<text x="34.9" y="0" text-anchor="start" transform="translate(0 272.3) scale(1 1.04)">8.0<tspan x="61.0" dy="1">×</tspan><tspan x="74.4" dy="-1">10</tspan><tspan dy="-6.5" font-size="11.4" x="93.3" letter-spacing="-0.2">−5</tspan></text>
<text x="34.9" y="0" text-anchor="start" transform="translate(0 363.2) scale(1 1.04)">6.0<tspan x="61.0" dy="1">×</tspan><tspan x="74.4" dy="-1">10</tspan><tspan dy="-6.5" font-size="11.4" x="93.3" letter-spacing="-0.2">−5</tspan></text>
<text x="212.5" y="0" text-anchor="middle" transform="translate(0 377.1) scale(1 1.04)">0.2</text>
<text x="344.1" y="0" text-anchor="middle" transform="translate(0 377.1) scale(1 1.04)">0.5</text>
<text x="443.6" y="0" text-anchor="middle" transform="translate(0 377.1) scale(1 1.04)">1</text>
<text x="543.1" y="0" text-anchor="middle" transform="translate(0 377.1) scale(1 1.04)">2</text>
<text x="674.7" y="0" text-anchor="middle" transform="translate(0 377.1) scale(1 1.04)">5</text>
<text x="363.8" y="0" transform="translate(0 409.2) scale(1 1.04)"><tspan class="i">T</tspan><tspan font-size="12.4" dy="7.1" dx="-0.7" stroke="#000" stroke-width="0.25">*</tspan><tspan dy="-7.1" dx="0.5" letter-spacing="0.7">(GeV)</tspan></text>

</g>
<text class="t" stroke="#000" stroke-width="0.15" transform="translate(13.3,216.6) rotate(-90) scale(1 1.04)">Ω<tspan font-size="11.4" dy="3.3">gw</tspan><tspan dy="-3.3" dx="0.5">/</tspan><tspan dx="0.6">Ω</tspan><tspan font-size="11.4" dy="3.3">gw</tspan><tspan font-size="13.5" dy="3.1" dx="0.1">*</tspan></text>
<g fill="none">
<path d="M484.6,54.8 H560.3" stroke="#000" stroke-width="3.0"/>
<path d="M485.8,93.7 H560.3" stroke="#0000ff" stroke-width="2.9" stroke-dasharray="7.9 7.3"/>
<path d="M486.3,132.3 H560.3" stroke="#ff0000" stroke-width="3.4" stroke-dasharray="2.2 7.27"/>
<path d="M485.1,171.7 H560.6" stroke="#000" stroke-width="1.35" stroke-dasharray="1.4 7.6 8.4 7.3"/>
</g>
<g class="t">
<g class="lg">
<text x="570.5" y="0" transform="translate(0 61.6) scale(1 1.04)"><tspan class="i">β</tspan>=0</text>
<text x="570.5" y="0" transform="translate(0 100.5) scale(1 1.04)"><tspan class="i">β</tspan>=0.1</text>
<text x="570.5" y="0" transform="translate(0 138.8) scale(1 1.04)"><tspan class="i">β</tspan>=0.5</text>
<text x="570.9" y="0" transform="translate(0 178.0) scale(1 1.04)"><tspan class="i">ω</tspan><tspan font-size="13.2" dy="3.2">eff</tspan><tspan dy="-3.2" dx="1.2" letter-spacing="0.3">=1/3</tspan></text>
</g>
</g>
</svg>
</body></html>
